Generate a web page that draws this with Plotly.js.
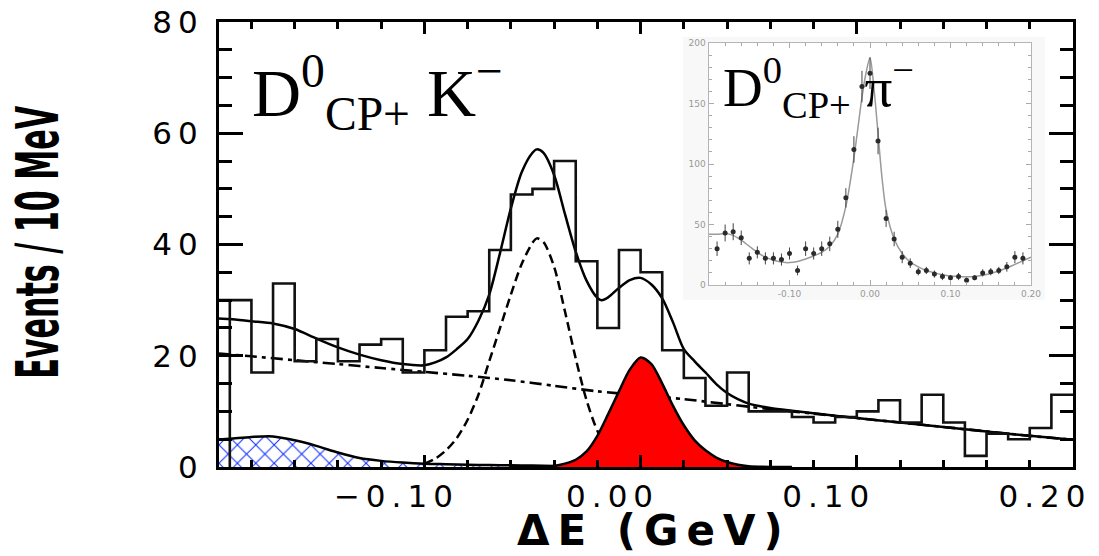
<!DOCTYPE html>
<html><head><meta charset="utf-8">
<script src="https://cdn.plot.ly/plotly-3.0.1.min.js"></script>
<style>
html,body{margin:0;padding:0;background:#fff;}
#chart{width:1099px;height:556px;}
.xtick text{letter-spacing:6px;}
.ytick text{letter-spacing:6px;}
</style></head><body><div id="chart"></div>
<script>
// ---- main histogram: D0_CP+ K- , 10 MeV bins ----
const binEdges = [-0.20,-0.19,-0.18,-0.17,-0.16,-0.15,-0.14,-0.13,-0.12,-0.11,-0.10,-0.09,-0.08,-0.07,-0.06,-0.05,-0.04,-0.03,-0.02,-0.01,0.00,0.01,0.02,0.03,0.04,0.05,0.06,0.07,0.08,0.09,0.10,0.11,0.12,0.13,0.14,0.15,0.16,0.17,0.18,0.19,0.20];
const counts = [30,30,17,33,19,23,19,22,23,17,21,27,28,39,49,50,55,37,25,39,35,21,16,11,17,10,10,9,8,9,10,12,8,13,8,2,6,5,7,13];

// total fit (solid)
const totX = [-0.195,-0.19,-0.18,-0.17,-0.16,-0.15,-0.14,-0.13,-0.12,-0.11,-0.10,-0.095,-0.09,-0.085,-0.08,-0.075,-0.07,-0.065,-0.06,-0.055,-0.05,-0.048,-0.045,-0.04,-0.035,-0.03,-0.025,-0.02,-0.018,-0.015,-0.01,-0.005,0.0,0.005,0.01,0.015,0.02,0.025,0.03,0.035,0.04,0.045,0.05,0.06,0.07,0.08,0.09,0.10,0.12,0.14,0.16,0.18,0.20];
const totY = [26.7,26.6,26.2,25.8,24.8,23.1,21.5,20.2,19.2,18.5,18.3,18.8,19.7,21.2,23.0,26.3,31.0,38.5,46.5,53.0,56.5,57.1,56.5,52.5,45.5,38.7,33.5,30.4,30.0,30.5,32.2,33.6,34.0,32.8,30.3,26.0,21.2,19.0,17.0,14.9,13.3,12.2,11.4,10.6,10.1,9.65,9.2,8.8,8.0,7.2,6.4,5.6,4.9];

// continuum background (dash-dot)
const bkgX = [-0.195,-0.18,-0.16,-0.14,-0.12,-0.10,-0.08,-0.06,-0.04,-0.02,0.00,0.02,0.04,0.06,0.08,0.10,0.12,0.14,0.16,0.18,0.20];
const bkgY = [20.4,19.9,19.2,18.5,17.8,17.1,16.4,15.6,14.6,13.6,12.9,12.2,11.3,10.4,9.6,8.8,8.0,7.2,6.4,5.6,4.9];

// D pi feed-across (dashed)
const dpiX = [-0.10,-0.095,-0.09,-0.085,-0.08,-0.075,-0.07,-0.065,-0.06,-0.055,-0.05,-0.048,-0.045,-0.04,-0.035,-0.03,-0.025,-0.02,-0.015,-0.01,-0.005,0.0];
const dpiY = [0.6,1.5,3.0,5.2,8.5,13,19,25,31,36.5,40.3,41.1,40.5,36,28,19.5,12,6.5,3,1.2,0.4,0.1];

// D K signal (red)
const sigX = [-0.06,-0.05,-0.04,-0.035,-0.03,-0.025,-0.02,-0.015,-0.01,-0.005,0.0,0.005,0.01,0.015,0.02,0.025,0.03,0.035,0.04,0.045,0.05,0.06,0.07];
const sigY = [0,0.05,0.2,0.6,1.3,2.8,5.6,9.5,13.6,17.5,19.7,18.5,15,11,7.5,4.8,3,1.7,0.9,0.4,0.15,0.02,0];

// BB background (blue hatched)
const bbX = [-0.195,-0.19,-0.18,-0.17,-0.16,-0.15,-0.14,-0.13,-0.12,-0.11,-0.10,-0.09,-0.08,-0.07,-0.06,-0.05,-0.04,-0.03,-0.02,-0.01,0.0];
const bbY = [5.0,5.1,5.4,5.5,4.8,3.8,2.6,1.6,1.1,0.8,0.6,0.5,0.4,0.35,0.3,0.25,0.2,0.15,0.1,0.05,0];

// ---- inset: D0_CP+ pi- ----
const inX = [-0.19,-0.18,-0.17,-0.16,-0.15,-0.14,-0.13,-0.12,-0.11,-0.10,-0.09,-0.08,-0.07,-0.06,-0.05,-0.04,-0.03,-0.02,-0.01,0.00,0.01,0.02,0.03,0.04,0.05,0.06,0.07,0.08,0.09,0.10,0.11,0.12,0.13,0.14,0.15,0.16,0.17,0.18,0.19];
const inY = [30,43,44,39,22,27,22,22,21,26,12,30,26,30,34,46,72,112,164,175,119,55,38,23,18,11,12,9,7,6,7,4,6,10,11,12,15,23,22];
const inErr = [6,7,7,6,5,5,5,5,5,5,4,6,5,6,6,7,8,11,13,13,11,7,6,5,4,3,3,3,3,2,3,2,2,3,3,3,4,5,5];
const inCurveX = [-0.20,-0.19,-0.18,-0.17,-0.16,-0.15,-0.14,-0.13,-0.12,-0.11,-0.10,-0.09,-0.08,-0.07,-0.06,-0.05,-0.04,-0.03,-0.02,-0.01,-0.005,0.0,0.005,0.01,0.015,0.02,0.03,0.04,0.05,0.06,0.07,0.08,0.09,0.10,0.11,0.12,0.13,0.14,0.15,0.16,0.17,0.18,0.19,0.20];
const inCurveY = [42,42,42.5,41,37,32,27,23,20.5,19,18.5,19.5,21.5,24,27,32,42,65,105,155,175,188,162,125,88,62,38,26,19,15,12,10,8.5,7.5,7,6.8,7,8,9.5,11.5,14,17,20,23];

const histX = binEdges.slice();
const histY = counts.concat([counts[counts.length-1]]);

const traces = [
  {x: bbX, y: bbY, type:'scatter', mode:'lines', fill:'tozeroy', fillcolor:'rgba(0,0,0,0)',
   fillpattern:{shape:'x', fgcolor:'#0a2bff', bgcolor:'#ffffff', size:13, solidity:0.15},
   line:{color:'#000', width:2.5, shape:'spline', smoothing:0.8}, xaxis:'x', yaxis:'y', hoverinfo:'skip'},
  {x: bkgX, y: bkgY, type:'scatter', mode:'lines',
   line:{color:'#000', width:2.6, dash:'12px,5px,4px,5px', shape:'spline', smoothing:0.8}, xaxis:'x', yaxis:'y'},
  {x: dpiX, y: dpiY, type:'scatter', mode:'lines',
   line:{color:'#000', width:2.5, dash:'9px,5px', shape:'spline', smoothing:0.8}, xaxis:'x', yaxis:'y'},
  {x: sigX, y: sigY, type:'scatter', mode:'lines', fill:'tozeroy', fillcolor:'#ff0000',
   line:{color:'#000', width:2.5, shape:'spline', smoothing:0.8}, xaxis:'x', yaxis:'y'},
  {x: totX, y: totY, type:'scatter', mode:'lines',
   line:{color:'#000', width:2.5, shape:'spline', smoothing:0.8}, xaxis:'x', yaxis:'y'},
  {x: histX, y: histY, type:'scatter', mode:'lines',
   line:{color:'#111', width:2.6, shape:'hv'}, xaxis:'x', yaxis:'y'},
  {x: [binEdges[1], binEdges[1]], y: [0, counts[1]], type:'scatter', mode:'lines',
   line:{color:'#111', width:2.6}, xaxis:'x', yaxis:'y'},
  // inset
  {x: inCurveX, y: inCurveY, type:'scatter', mode:'lines',
   line:{color:'#9a9a9a', width:1.5, shape:'spline', smoothing:0.8}, xaxis:'x2', yaxis:'y2'},
  {x: inX, y: inY, type:'scatter', mode:'markers',
   marker:{color:'#2a2a2a', size:5, symbol:'circle'},
   error_y:{type:'data', array: inErr, visible:true, color:'#444', thickness:1, width:0},
   xaxis:'x2', yaxis:'y2'}
];

const tickFont = {family:'DejaVu Sans, sans-serif', size:31, color:'#000'};
const layout = {
  width:1099, height:556,
  margin:{l:219, r:26, t:22, b:89},
  paper_bgcolor:'#fff', plot_bgcolor:'#fff',
  showlegend:false,
  xaxis:{domain:[0,1], range:[-0.195,0.2], tick0:0, dtick:0.1, tickformat:'.2f',
    ticks:'inside', ticklen:12, tickwidth:3, tickcolor:'#000',
    minor:{dtick:0.02, tick0:0, ticks:'inside', ticklen:7, tickwidth:3, tickcolor:'#000'},
    showline:true, linewidth:3, linecolor:'#000', mirror:'ticks',
    showgrid:false, zeroline:false, tickfont:tickFont, ticklabelshift:-28, ticklabelstandoff:0},
  yaxis:{domain:[0,1], range:[0,80], tick0:0, dtick:20,
    ticks:'inside', ticklen:24, tickwidth:3, tickcolor:'#000',
    minor:{dtick:5, tick0:0, ticks:'inside', ticklen:13, tickwidth:3, tickcolor:'#000'},
    showline:true, linewidth:3, linecolor:'#000', mirror:'ticks',
    showgrid:false, zeroline:false, tickfont:tickFont, ticklabelstandoff:6},
  xaxis2:{domain:[0.5738,0.9508], anchor:'y2', range:[-0.2,0.2],
    tickvals:[-0.1,0,0.1,0.2], ticktext:['-0.10','0.00','0.10','0.20'],
    ticks:'inside', ticklen:5, tickwidth:1, tickcolor:'#aaa',
    minor:{dtick:0.02, tick0:0, ticks:'inside', ticklen:3, tickwidth:1, tickcolor:'#aaa'},
    showline:true, linewidth:1.5, linecolor:'#b5b5b5', mirror:'ticks',
    showgrid:false, zeroline:false, tickfont:{family:'DejaVu Sans, sans-serif', size:9, color:'#999'}},
  yaxis2:{domain:[0.409,0.9528], anchor:'x2', range:[0,200], dtick:50, tick0:0,
    ticks:'inside', ticklen:5, tickwidth:1, tickcolor:'#aaa',
    minor:{dtick:10, tick0:0, ticks:'inside', ticklen:3, tickwidth:1, tickcolor:'#aaa'},
    showline:true, linewidth:1.5, linecolor:'#b5b5b5', mirror:'ticks',
    showgrid:false, zeroline:false, tickfont:{family:'DejaVu Sans, sans-serif', size:9, color:'#999'}},
  shapes:[
    {type:'rect', xref:'paper', yref:'paper', x0:0.5433, x1:0.967, y0:0.3753, y1:0.9663,
     fillcolor:'#f8f8f8', line:{width:0}, layer:'below'},
    {type:'rect', xref:'paper', yref:'paper', x0:0.5738, x1:0.9508, y0:0.409, y1:0.9528,
     fillcolor:'#ffffff', line:{width:0}, layer:'below'}
  ],
  annotations:[
    {text:'D<sup>0</sup><sub>CP+</sub> K<sup>\u2212</sup>', xref:'paper', yref:'paper',
     x:0.036, y:0.842, xanchor:'left', yanchor:'middle', showarrow:false,
     font:{family:'Liberation Serif, Times New Roman, serif', size:68, color:'#000'}},
    {text:'D<sup>0</sup><sub>CP+</sub> \u03c0<sup>\u2212</sup>', xref:'paper', yref:'paper',
     x:0.588, y:0.852, xanchor:'left', yanchor:'middle', showarrow:false,
     font:{family:'Liberation Serif, Times New Roman, serif', size:55, color:'#000'}},
    {text:'<b>\u0394E (GeV)</b>', xref:'paper', yref:'paper', x:0.509, y:-0.143,
     xanchor:'center', yanchor:'middle', showarrow:false,
     font:{family:'DejaVu Sans, sans-serif', size:42, color:'#000'}},
    {text:'<b>Events / 10 MeV</b>', xref:'paper', yref:'paper', x:-0.212, y:0.506,
     xanchor:'center', yanchor:'middle', textangle:-90, showarrow:false,
     font:{family:'DejaVu Sans, sans-serif', size:58, color:'#000'}}
  ]
};

Plotly.newPlot('chart', traces, layout, {staticPlot:true, displayModeBar:false}).then(function(gd){
  const ann = gd.querySelectorAll('.annotation-text');
  if (ann[2]) { ann[2].style.letterSpacing = '8px'; }
  if (ann[3]) {
    ann[3].style.transformBox = 'fill-box';
    ann[3].style.transformOrigin = 'center';
    ann[3].style.transform = 'scaleX(0.52)';
  }
});
</script>
</body></html>
